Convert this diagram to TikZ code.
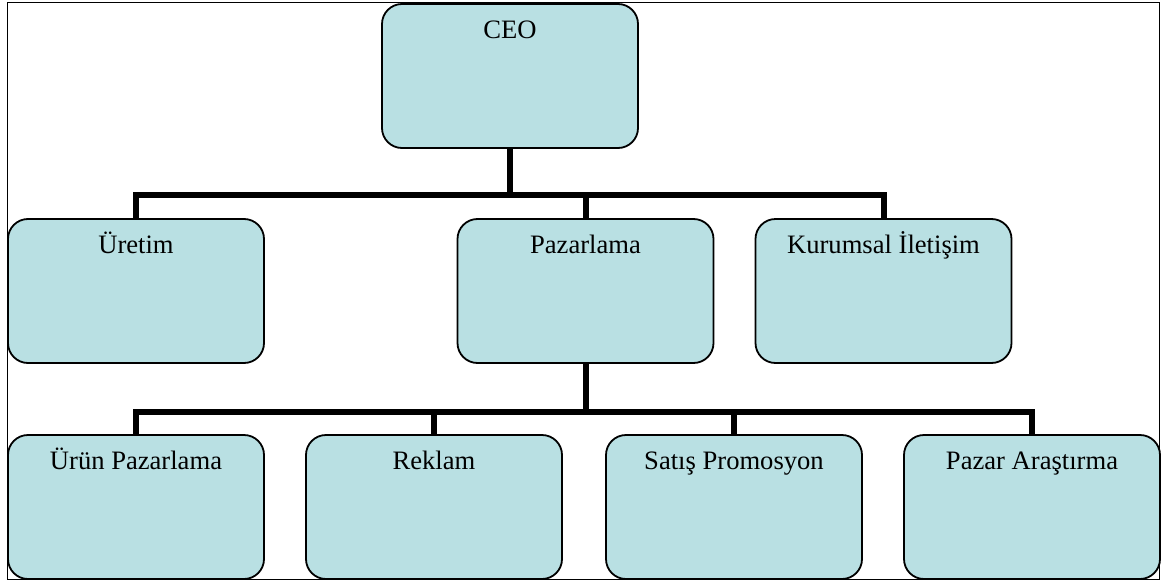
\documentclass[tikz,border=0pt]{standalone}
\usepackage{fontspec}
\setmainfont{Liberation Serif}
\begin{document}
\begin{tikzpicture}[x=1pt,y=-1pt,
  unit/.style={draw=black, line width=1.8pt, fill=boxfill, rounded corners=20pt,
    minimum width=256pt, inner xsep=0pt, inner ysep=0pt,
    text height=34pt, text depth=110pt,
    font=\fontsize{26.6}{32}\selectfont},
  conn/.style={draw=black, line width=6pt}]
\definecolor{boxfill}{RGB}{185,224,227}
\useasboundingbox (0,0) rectangle (1163,581);
% outer frame
\draw[line width=1pt] (7,2) rectangle (1159,579);
% top level
\node[unit] (ceo) at (510,76) {CEO};
% second level
\node[unit] (uretim) at (136,291) {Üretim};
\node[unit] (pazarlama) at (585.5,291) {Pazarlama};
\node[unit] (kurumsal) at (883.5,291) {Kurumsal İletişim};
% third level
\node[unit] (urun) at (136,507) {Ürün Pazarlama};
\node[unit] (reklam) at (434,507) {Reklam};
\node[unit] (satis) at (734,507) {Satış Promosyon};
\node[unit] (arastirma) at (1032,507) {Pazar Araştırma};
% bus junctions
\coordinate (busA) at (510,195);
\coordinate (busB) at (585.5,412);
% connectors CEO -> second level
\begin{scope}[on background layer/.try]
\end{scope}
\draw[conn] (ceo.south) -- (busA);
\draw[conn] (busA) -| (uretim.north);
\draw[conn] (busA) -| (pazarlama.north);
\draw[conn] (busA) -| (kurumsal.north);
% connectors Pazarlama -> third level
\draw[conn] (pazarlama.south) -- (busB);
\draw[conn] (busB) -| (urun.north);
\draw[conn] (busB) -| (reklam.north);
\draw[conn] (busB) -| (satis.north);
\draw[conn] (busB) -| (arastirma.north);
\end{tikzpicture}
\end{document}
